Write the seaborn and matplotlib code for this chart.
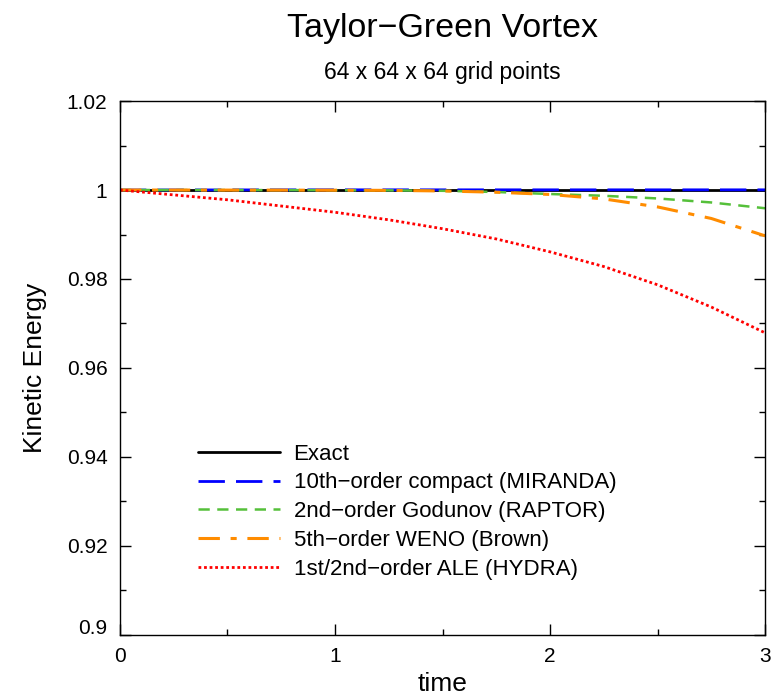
import matplotlib
matplotlib.use("Agg")
import matplotlib.pyplot as plt
import matplotlib.transforms as mtransforms
import seaborn as sns
import pandas as pd
from matplotlib.ticker import MultipleLocator

# ---- data ----
t = [0.0, 0.25, 0.5, 0.75, 1.0, 1.25, 1.5, 1.75, 2.0, 2.25, 2.5, 2.75, 3.0]
exact = [1.0] * 13
miranda = [1.0, 1.00001, 1.00002, 1.00003, 1.00004, 1.00004, 1.00004, 1.00004,
           1.00004, 1.00004, 1.00004, 1.00004, 1.00004]
raptor = [1.0, 1.0, 0.99999, 0.99998, 0.99996, 0.99992, 0.99982, 0.99955,
          0.9991, 0.9987, 0.9981, 0.9972, 0.9959]
weno = [1.0, 0.99999, 0.99998, 0.99997, 0.99995, 0.99992, 0.99978, 0.9995,
        0.9990, 0.9980, 0.9962, 0.9936, 0.9897]
hydra = [1.0, 0.9989, 0.9978, 0.9964, 0.9950, 0.9933, 0.9913, 0.9890,
         0.9861, 0.9828, 0.9787, 0.9737, 0.9679]

labels = ["Exact", "10th\u2212order compact (MIRANDA)", "2nd\u2212order Godunov (RAPTOR)",
          "5th\u2212order WENO (Brown)", "1st/2nd\u2212order ALE (HYDRA)"]
series = [exact, miranda, raptor, weno, hydra]

title = "Taylor\u2212Green Vortex"
subtitle = "64 x 64 x 64 grid points"
xticks = [0, 1, 2, 3]
yticks = [0.9, 0.92, 0.94, 0.96, 0.98, 1.0, 1.02]
ytick_labels = ["0.9", "0.92", "0.94", "0.96", "0.98", "1", "1.02"]

# ---- style ----
sns.set_style("ticks")
plt.rcParams["font.family"] = ["Liberation Sans", "DejaVu Sans"]
plt.rcParams["axes.unicode_minus"] = True
for k in ["text.color", "axes.labelcolor", "xtick.color", "ytick.color",
          "xtick.labelcolor", "ytick.labelcolor", "axes.edgecolor"]:
    plt.rcParams[k] = "black"

colors = ["black", "#0000ff", "#55c03a", "#ff8c00", "#ff0000"]
styles = [
    dict(linestyle="-", linewidth=2.0),
    dict(linestyle=(0, (9.5, 4)), linewidth=2.0),
    dict(linestyle=(0, (4.5, 3)), linewidth=1.8),
    dict(linestyle=(0, (7, 3.5, 2, 3.5)), linewidth=2.2),
    dict(linestyle=(0, (1, 1)), linewidth=2.0),
]

fig = plt.figure(figsize=(7.72, 7.0), dpi=100)
ax = fig.add_axes([0.1554, 0.0929, 0.8356, 0.7628])

for lab, ys, c, st in zip(labels, series, colors, styles):
    df = pd.DataFrame({"time": t, "ke": ys})
    sns.lineplot(data=df, x="time", y="ke", ax=ax, color=c, label=lab, **st)

ax.set_xlim(0, 3)
ax.set_ylim(0.9, 1.02)
ax.set_xticks(xticks)
ax.set_xticklabels([str(v) for v in xticks])
ax.set_yticks(yticks)
ax.set_yticklabels(ytick_labels)
ax.xaxis.set_minor_locator(MultipleLocator(0.5))
ax.yaxis.set_minor_locator(MultipleLocator(0.01))
ax.tick_params(which="both", direction="in", top=True, right=True, labelsize=15,
               color="black", labelcolor="black")
ax.tick_params(which="major", length=8, width=1)
ax.tick_params(which="minor", length=4, width=1)
ax.tick_params(axis="x", which="major", pad=9)
ax.tick_params(axis="y", which="major", pad=9)
for s in ax.spines.values():
    s.set_color("black")
    s.set_linewidth(1.0)

# lift the lowest y label a little, as in the reference
lbl = ax.get_yticklabels()[0]
lbl.set_transform(lbl.get_transform() + mtransforms.ScaledTranslation(0, 8 / 100, fig.dpi_scale_trans))

ax.set_xlabel("time", fontsize=19, labelpad=4, color="black")
ax.set_ylabel("Kinetic Energy", fontsize=19, labelpad=14, color="black")

fig.text(0.573, 0.96, title, ha="center", va="center", fontsize=24.5, color="black")
fig.text(0.573, 0.897, subtitle, ha="center", va="center", fontsize=16.5, color="black")

leg = ax.legend(loc="lower left", bbox_to_anchor=(0.09, 0.066), frameon=False,
                fontsize=16, handlelength=3.7, handletextpad=0.6, labelspacing=0.35)
for txt in leg.get_texts():
    txt.set_color("black")

fig.savefig("out.png", dpi=100)
